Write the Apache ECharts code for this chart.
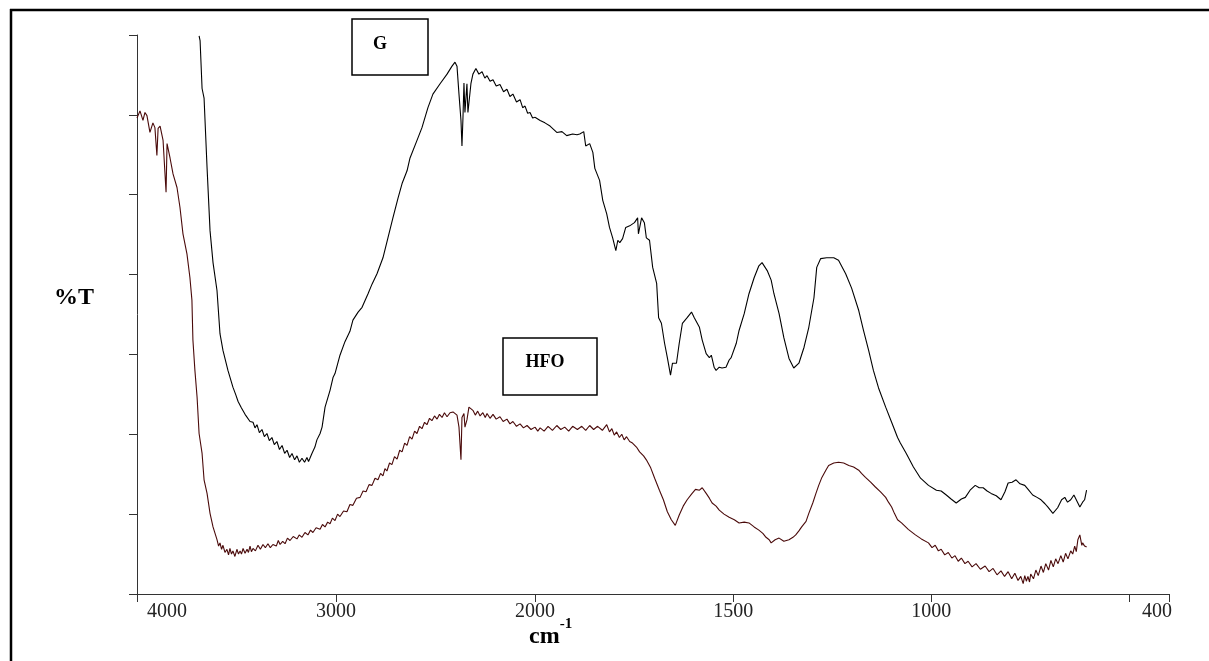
<!DOCTYPE html>
<html>
<head>
<meta charset="utf-8">
<script src="https://cdn.jsdelivr.net/npm/echarts@6/dist/echarts.min.js"></script>
<style>
  html, body { margin: 0; padding: 0; background: #fff; }
  #chart { width: 1209px; height: 661px; }
</style>
</head>
<body>
<div id="chart"></div>
<script>
// FTIR spectra as [wavenumber (cm-1), transmittance (%T)] pairs
const gSpectrum = [
  [3688,69.9],[3683,69.3],[3673,63.3],[3663,62.1],[3648,53.4],[3633,45.5],[3618,41.5],[3598,38.0],[3583,32.6],[3568,30.5],
  [3543,28.0],[3518,25.9],[3503,24.9],[3492,24.1],[3482,24.2],[3475,23.3],[3467,23.4],[3457,22.5],[3447,22.6],[3432,21.6],
  [3417,21.5],[3407,20.8],[3397,21.2],[3385,20.2],[3372,20.6],[3360,19.7],[3347,20.1],[3335,19.2],[3322,19.6],[3310,18.7],
  [3297,19.1],[3284,18.1],[3271,18.6],[3258,17.6],[3246,18.0],[3233,17.1],[3221,17.6],[3208,16.8],[3196,17.3],[3184,16.5],
  [3171,17.0],[3158,16.5],[3146,17.1],[3138,16.6],[3131,17.0],[3121,17.6],[3106,18.4],[3096,19.3],[3080,20.1],[3070,20.9],
  [3055,23.4],[3030,25.5],[3015,27.1],[3005,27.6],[2980,29.9],[2955,31.6],[2930,32.9],[2915,34.3],[2889,35.3],[2869,35.9],
  [2839,37.6],[2819,38.8],[2794,40.1],[2764,42.1],[2739,44.6],[2714,47.1],[2688,49.6],[2668,51.4],[2643,53.0],[2628,54.6],
  [2593,56.8],[2568,58.4],[2538,60.9],[2513,62.6],[2477,63.9],[2442,65.1],[2417,66.1],[2402,66.6],[2392,66.1],[2382,62.6],
  [2372,59.3],[2367,56.1],[2362,59.6],[2357,64.0],[2352,60.3],[2342,63.9],[2337,60.3],[2322,63.9],[2312,65.1],[2297,65.8],
  [2282,65.1],[2266,65.4],[2252,64.6],[2241,64.9],[2226,64.2],[2211,64.4],[2195,63.6],[2176,63.8],[2158,62.9],[2141,63.2],
  [2126,62.3],[2111,62.6],[2093,61.6],[2075,61.9],[2062,60.9],[2050,61.1],[2037,60.2],[2025,60.3],[2012,59.6],[2000,59.7],
  [1987,59.3],[1975,59.0],[1962,58.6],[1945,57.8],[1932,57.9],[1920,57.4],[1905,57.6],[1894,57.5],[1887,57.6],[1877,57.9],
  [1872,56.1],[1862,56.4],[1854,55.3],[1849,53.3],[1837,51.8],[1829,49.3],[1819,47.6],[1812,45.9],[1804,44.6],[1796,43.0],
  [1791,44.3],[1786,44.0],[1779,44.5],[1771,45.9],[1761,46.1],[1749,46.5],[1741,47.1],[1739,45.1],[1731,47.1],[1724,46.5],
  [1719,44.6],[1711,44.3],[1703,40.9],[1693,38.9],[1688,34.6],[1681,33.9],[1673,31.4],[1666,29.6],[1658,27.4],[1653,28.9],
  [1643,28.9],[1636,31.4],[1628,33.9],[1616,34.6],[1605,35.3],[1598,34.6],[1585,33.4],[1578,31.8],[1568,30.1],[1560,29.6],
  [1555,29.9],[1548,28.4],[1543,28.0],[1535,28.4],[1528,28.3],[1518,28.4],[1510,29.3],[1505,29.6],[1492,31.4],[1485,33.0],
  [1472,35.1],[1460,37.6],[1447,39.6],[1435,41.1],[1427,41.5],[1414,40.5],[1404,39.3],[1397,37.6],[1384,35.1],[1372,32.1],
  [1359,29.5],[1347,28.3],[1334,28.9],[1321,30.9],[1309,33.4],[1296,37.1],[1289,40.9],[1279,42.0],[1264,42.1],[1246,42.1],
  [1234,41.8],[1216,40.1],[1201,38.3],[1183,35.5],[1171,33.0],[1158,30.5],[1146,28.0],[1133,25.8],[1115,23.4],[1100,21.5],
  [1085,19.6],[1078,18.9],[1063,17.6],[1045,15.9],[1027,14.5],[1007,13.6],[987,13.0],[975,12.9],[962,12.4],[950,11.9],
  [937,11.4],[924,11.9],[914,12.1],[902,13.0],[889,13.6],[879,13.3],[869,13.3],[859,12.9],[849,12.6],[836,12.3],
  [824,11.8],[814,12.8],[806,13.9],[796,14.0],[786,14.3],[776,13.8],[764,13.6],[754,13.0],[744,12.4],[733,12.1],
  [723,11.8],[713,11.3],[706,10.9],[693,10.1],[681,10.8],[671,11.8],[663,12.1],[656,11.5],[648,11.8],[640,12.4],
  [635,12.6],[630,11.4],[625,10.9],[618,11.5],[613,11.8],[608,13.0]
];

const hfoSpectrum = [
  [4000,59.6],[3985,60.5],[3970,59.3],[3960,60.3],[3950,59.9],[3935,57.8],[3920,59.0],[3910,58.4],[3900,54.9],[3894,58.3],
  [3884,58.6],[3869,56.8],[3854,50.3],[3849,56.4],[3834,54.6],[3819,52.6],[3799,50.9],[3784,48.4],[3769,45.1],[3749,42.6],
  [3734,39.6],[3724,36.8],[3719,31.8],[3709,28.0],[3698,24.6],[3688,20.1],[3673,17.6],[3663,14.3],[3648,12.6],[3633,10.1],
  [3618,8.4],[3598,6.8],[3590,6.0],[3583,6.4],[3575,5.6],[3568,6.1],[3558,5.2],[3548,5.6],[3540,4.9],[3533,5.7],
  [3525,5.0],[3518,5.4],[3508,4.7],[3498,5.6],[3490,5.0],[3482,5.4],[3475,5.0],[3467,5.7],[3457,5.1],[3447,5.6],
  [3440,5.2],[3432,6.0],[3425,5.3],[3417,5.7],[3405,5.4],[3392,6.1],[3380,5.6],[3367,6.2],[3355,5.8],[3342,6.3],
  [3330,5.8],[3317,6.2],[3300,6.0],[3290,6.7],[3281,6.2],[3268,6.6],[3256,6.3],[3244,7.0],[3231,6.7],[3215,7.2],
  [3196,6.9],[3185,7.4],[3171,7.1],[3156,7.7],[3141,7.4],[3128,8.0],[3116,7.7],[3100,8.3],[3080,8.1],[3068,8.7],
  [3055,8.4],[3042,9.0],[3030,8.8],[3018,9.5],[3005,9.2],[2992,10.0],[2980,9.7],[2962,10.4],[2945,10.3],[2930,11.2],
  [2915,11.1],[2897,12.0],[2879,12.1],[2864,12.9],[2849,12.8],[2834,13.7],[2819,13.6],[2804,14.5],[2789,14.3],[2776,15.1],
  [2764,14.8],[2754,15.7],[2744,15.4],[2731,16.4],[2719,16.2],[2706,17.2],[2693,16.9],[2680,18.0],[2668,17.8],[2655,18.9],
  [2643,18.6],[2630,19.7],[2618,19.4],[2605,20.4],[2593,20.1],[2580,21.0],[2568,20.7],[2555,21.5],[2543,21.2],[2530,22.0],
  [2518,21.7],[2505,22.3],[2492,21.9],[2480,22.5],[2467,22.1],[2455,22.7],[2442,22.2],[2427,22.7],[2412,22.8],[2392,22.4],
  [2382,20.9],[2372,16.8],[2367,22.1],[2357,22.6],[2352,20.9],[2342,21.8],[2332,23.4],[2312,23.0],[2300,22.4],[2288,22.9],
  [2276,22.3],[2262,22.7],[2250,22.1],[2241,22.6],[2226,22.0],[2211,22.5],[2195,21.9],[2176,22.2],[2160,21.6],[2141,21.9],
  [2126,21.3],[2111,21.6],[2093,21.0],[2075,21.3],[2058,20.8],[2040,21.1],[2020,20.6],[2000,20.9],
  [1993,20.4],[1987,20.8],[1977,20.4],[1967,21.0],[1956,20.5],[1945,21.1],[1935,20.6],[1925,20.9],[1915,20.4],[1905,21.0],
  [1893,20.6],[1882,21.0],[1872,20.5],[1862,21.1],[1852,20.6],[1842,21.0],[1830,20.5],[1819,21.2],[1812,20.3],[1806,20.7],
  [1800,19.9],[1794,20.3],[1787,19.6],[1781,20.0],[1775,19.3],[1769,19.7],[1761,19.1],[1754,18.9],[1744,18.4],[1736,17.8],
  [1726,17.3],[1719,16.8],[1708,15.8],[1698,14.5],[1686,13.0],[1676,11.8],[1666,10.3],[1656,9.3],[1646,8.6],[1636,9.9],
  [1626,11.0],[1616,11.8],[1605,12.5],[1595,13.1],[1585,13.0],[1578,13.3],[1568,12.6],[1560,12.0],[1553,11.4],[1543,11.0],
  [1535,10.5],[1523,10.0],[1510,9.6],[1497,9.3],[1485,8.9],[1472,9.0],[1460,8.9],[1447,8.4],[1435,8.0],[1425,7.6],
  [1417,7.1],[1409,6.8],[1404,6.4],[1394,6.8],[1384,7.0],[1372,6.6],[1359,6.8],[1349,7.1],[1342,7.4],[1334,7.9],
  [1327,8.4],[1316,9.1],[1309,10.1],[1299,11.4],[1291,12.6],[1284,13.6],[1276,14.6],[1266,15.5],[1259,16.1],[1246,16.4],
  [1234,16.5],[1221,16.4],[1208,16.1],[1196,15.9],[1183,15.5],[1176,15.1],[1166,14.6],[1153,14.0],[1141,13.4],[1128,12.8],
  [1115,12.1],[1108,11.5],[1100,10.9],[1093,10.1],[1085,9.3],[1075,8.9],[1058,8.1],[1040,7.4],[1025,6.9],[1007,6.4],
  [998,5.8],[990,6.1],[982,5.4],[975,5.6],[966,4.9],[957,5.2],[948,4.5],[940,4.8],[932,4.1],[924,4.5],
  [915,3.8],[907,4.1],[897,3.4],[887,3.8],[876,3.1],[864,3.5],[854,2.8],[844,3.2],[834,2.4],[824,2.9],
  [815,2.2],[806,2.8],[797,1.9],[789,2.6],[781,1.7],[774,2.2],[768,1.3],[764,2.3],[760,1.6],[756,2.2],
  [752,1.5],[749,2.5],[742,1.9],[736,3.0],[730,2.3],[723,3.5],[717,2.7],[711,3.8],[704,3.0],[698,4.2],
  [692,3.4],[686,4.4],[680,3.8],[673,4.8],[667,4.0],[661,5.1],[655,4.4],[648,5.4],[643,5.0],[638,6.0],
  [634,5.3],[630,6.8],[625,7.4],[620,6.1],[618,6.4],[613,6.0],[608,5.9]
];

// The wavenumber axis changes scale at 2000 cm-1: two panels side by side
const BREAK = 2000;
const highTicks = [4000, 3000, 2000];
const highLabels = [4000, 3000, 2000];
const lowTicks = [2000, 1500, 1000, 500, 400];
const lowLabels = [1500, 1000, 400];

const SERIF = '"Liberation Serif", "Times New Roman", serif';
const AXIS_COLOR = '#333';
const LABEL_COLOR = '#222';
const HFO_COLOR = '#4a0a0a';

function segment(spectrum, high) {
  return spectrum.filter(p => high ? p[0] >= BREAK : p[0] <= BREAK);
}

const chart = echarts.init(document.getElementById('chart'), null, { renderer: 'canvas' });

const commonX = {
  type: 'value',
  inverse: true,
  axisLine: { onZero: false, lineStyle: { color: AXIS_COLOR, width: 1 } },
  splitLine: { show: false }
};

function lineSeries(name, data, xi, color) {
  return {
    name, type: 'line', xAxisIndex: xi, yAxisIndex: xi, data,
    showSymbol: false, symbol: 'none', silent: true, clip: true,
    color, lineStyle: { width: 1.1, color }
  };
}

chart.setOption({
  animation: false,
  backgroundColor: '#fff',
  title: [
    {
      // x-axis unit
      text: '{b|cm}{s|-1}',
      left: 529,
      top: 617,
      padding: 0,
      textStyle: {
        rich: {
          b: { fontFamily: SERIF, fontWeight: 'bold', fontSize: 24, color: '#000', lineHeight: 32, verticalAlign: 'bottom' },
          s: { fontFamily: SERIF, fontWeight: 'bold', fontSize: 15, color: '#000', lineHeight: 15, verticalAlign: 'top' }
        }
      }
    },
    {
      // y-axis quantity
      text: '%T',
      left: 54,
      top: 286,
      padding: 0,
      textStyle: { fontFamily: SERIF, fontWeight: 'bold', fontSize: 24, color: '#000' }
    }
  ],
  grid: [
    { left: 137, top: 35, width: 398, height: 559, containLabel: false, outerBoundsMode: 'none' },
    { left: 535, top: 35, width: 634, height: 559, containLabel: false, outerBoundsMode: 'none' }
  ],
  xAxis: [
    Object.assign({}, commonX, {
      gridIndex: 0, min: BREAK, max: 4000,
      axisTick: { customValues: highTicks, length: 8, lineStyle: { color: AXIS_COLOR } },
      axisLabel: {
        customValues: highLabels, margin: 8, color: LABEL_COLOR, fontFamily: SERIF, fontSize: 20,
        formatter: v => v === 4000 ? '{first|4000}' : String(v),
        rich: { first: { padding: [0, 0, 0, 60], fontFamily: SERIF, fontSize: 20, color: LABEL_COLOR } }
      }
    }),
    Object.assign({}, commonX, {
      gridIndex: 1, min: 400, max: BREAK,
      axisTick: { customValues: lowTicks, length: 8, lineStyle: { color: AXIS_COLOR } },
      axisLabel: {
        customValues: lowLabels, margin: 8, color: LABEL_COLOR, fontFamily: SERIF, fontSize: 20,
        formatter: v => v === 400 ? '{last|400}' : String(v),
        rich: { last: { padding: [0, 24, 0, 0], fontFamily: SERIF, fontSize: 20, color: LABEL_COLOR } }
      }
    })
  ],
  yAxis: [
    {
      type: 'value', gridIndex: 0, min: 0, max: 70, interval: 10,
      axisLine: { show: true, onZero: false, lineStyle: { color: AXIS_COLOR, width: 1 } },
      axisTick: { show: true, length: 8, lineStyle: { color: AXIS_COLOR } },
      axisLabel: { show: false },
      splitLine: { show: false }
    },
    { type: 'value', gridIndex: 1, min: 0, max: 70, show: false }
  ],
  series: [
    lineSeries('G', segment(gSpectrum, true), 0, '#000'),
    lineSeries('G', segment(gSpectrum, false), 1, '#000'),
    lineSeries('HFO', segment(hfoSpectrum, true), 0, HFO_COLOR),
    lineSeries('HFO', segment(hfoSpectrum, false), 1, HFO_COLOR)
  ],
  graphic: [
    // frame
    { type: 'line', shape: { x1: 10, y1: 10, x2: 1209, y2: 10 }, style: { stroke: '#000', lineWidth: 2.5 } },
    { type: 'line', shape: { x1: 11, y1: 9, x2: 11, y2: 661 }, style: { stroke: '#000', lineWidth: 2.5 } },
    // sample tags
    { type: 'rect', shape: { x: 352, y: 19, width: 76, height: 56 }, style: { fill: 'none', stroke: '#000', lineWidth: 1.5 } },
    { type: 'text', x: 380, y: 44, style: { text: 'G', fontFamily: SERIF, fontWeight: 'bold', fontSize: 18, fill: '#000', align: 'center', verticalAlign: 'middle' } },
    { type: 'rect', shape: { x: 503, y: 338, width: 94, height: 57 }, style: { fill: 'none', stroke: '#000', lineWidth: 1.5 } },
    { type: 'text', x: 545, y: 362, style: { text: 'HFO', fontFamily: SERIF, fontWeight: 'bold', fontSize: 18, fill: '#000', align: 'center', verticalAlign: 'middle' } }
  ]
});
</script>
</body>
</html>
